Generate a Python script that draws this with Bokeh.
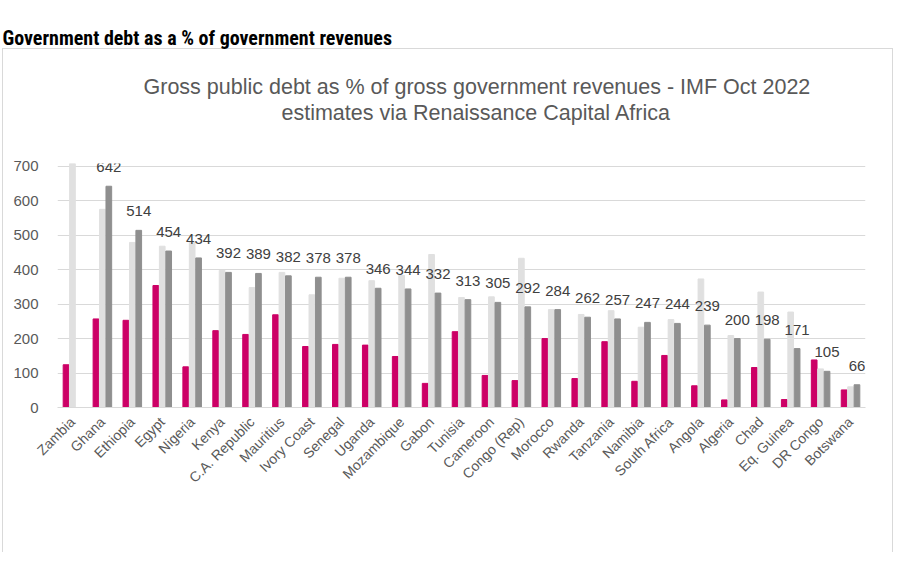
from math import pi

from bokeh.plotting import figure
from bokeh.models import ColumnDataSource, Legend, LegendItem, FixedTicker, Range1d, Title
from bokeh.transform import dodge
from bokeh.core.properties import value
from bokeh.embed import file_html
from bokeh.resources import INLINE

countries = ["Zambia", "Ghana", "Ethiopia", "Egypt", "Nigeria", "Kenya", "C.A. Republic",
             "Mauritius", "Ivory Coast", "Senegal", "Uganda", "Mozambique", "Gabon", "Tunisia",
             "Cameroon", "Congo (Rep)", "Morocco", "Rwanda", "Tanzania", "Namibia",
             "South Africa", "Angola", "Algeria", "Chad", "Eq. Guinea", "DR Congo", "Botswana"]
debt_2012 = [124, 257, 253, 354, 118, 223, 212, 269, 177, 183, 181, 148, 70, 220, 93, 78,
             200, 84, 191, 76, 151, 63, 22, 116, 23, 138, 51]
debt_2021 = [708, 575, 479, 468, 480, 398, 348, 392, 327, 375, 368, 383, 444, 319, 321, 433,
             284, 270, 281, 233, 255, 373, 209, 335, 277, 112, 60]
debt_2022 = [float("nan"), 642, 514, 454, 434, 392, 389, 382, 378, 378, 346, 344, 332, 313,
             305, 292, 284, 262, 257, 247, 244, 239, 200, 198, 171, 105, 66]
y_ticks = [0, 100, 200, 300, 400, 500, 600, 700]

header = "Government debt as a % of government revenues"
title_1 = "Gross public debt as % of gross government revenues - IMF Oct 2022"
title_2 = "estimates via Renaissance Capital Africa"

PINK = "#CC0066"
LIGHT = "#E0E0E0"
DARK = "#8F8F8F"
GRID = "#D9D9D9"
TXT = "#595959"
FONT = "Liberation Sans"

labels_2022 = ["" if v != v else str(v) for v in debt_2022]
source = ColumnDataSource(data={"country": countries, "y2012": debt_2012, "y2021": debt_2021,
                                "y2022": debt_2022, "lbl": labels_2022})

p = figure(x_range=countries, y_range=Range1d(0, 708), frame_width=808, frame_height=244,
           min_border_left=57, min_border_right=33, min_border_top=0, min_border_bottom=145,
           toolbar_location=None, output_backend="svg")

# light box round the chart (css background behind a transparent canvas)
p.border_fill_color = None
p.background_fill_color = None
line = "linear-gradient(%s, %s)" % (GRID, GRID)
p.styles = {
    "background-color": "white",
    "background-image": ", ".join([line] * 3),
    "background-position": "2px 48px, 2px 48px, 892px 48px",
    "background-size": "891px 1px, 1px 520px, 1px 520px",
    "background-repeat": "no-repeat",
}

r1 = p.vbar(x=dodge("country", -0.215, range=p.x_range), top="y2012", width=0.19,
            source=source, color=PINK)
r2 = p.vbar(x=dodge("country", 0.0, range=p.x_range), top="y2021", width=0.19,
            source=source, color=LIGHT)
r3 = p.vbar(x=dodge("country", 0.215, range=p.x_range), top="y2022", width=0.19,
            source=source, color=DARK)

p.text(x=dodge("country", 0.215, range=p.x_range), y="y2022", text="lbl", source=source,
       text_align="center", text_baseline="middle", y_offset=-19,
       text_font=value(FONT), text_font_size="15px", text_color="#404040")

# titles stack outward from the frame; each text sits in the middle of its slot
p.add_layout(Title(text=" ", standoff=36, text_font_size="1px"), "above")
p.add_layout(Title(text=title_2, align="left", offset=224, standoff=0, text_font=FONT,
                   text_font_size="21.5px", text_font_style="normal", text_color=TXT), "above")
p.add_layout(Title(text=title_1, align="left", offset=86, standoff=0, text_font=FONT,
                   text_font_size="21.5px", text_font_style="normal", text_color=TXT), "above")
p.add_layout(Title(text=header, align="left", offset=-55, standoff=46,
                   text_font="Liberation Sans Narrow, Roboto Condensed, Liberation Sans",
                   text_font_size="20px", text_font_style="bold", text_color="black"), "above")

p.outline_line_color = None
p.xgrid.grid_line_color = None
p.ygrid.grid_line_color = GRID
p.yaxis.ticker = FixedTicker(ticks=y_ticks)
p.yaxis.axis_line_color = None
p.yaxis.major_tick_line_color = None
p.yaxis.minor_tick_line_color = None
p.yaxis.major_label_standoff = 13
p.xaxis.axis_line_color = GRID
p.xaxis.major_tick_line_color = None
p.xaxis.major_label_orientation = pi / 4
p.xaxis.major_label_standoff = 6
p.axis.major_label_text_font = FONT
p.axis.major_label_text_color = TXT
p.yaxis.major_label_text_font_size = "15px"
p.xaxis.major_label_text_font_size = "14px"
p.x_range.range_padding = 0

# legend placed below the frame, position measured from the frame's bottom-left corner
legend = Legend(items=[LegendItem(label="2012", renderers=[r1]),
                       LegendItem(label="2021", renderers=[r2]),
                       LegendItem(label="2022", renderers=[r3])],
                orientation="horizontal", location=(300, -134), border_line_color=None,
                background_fill_alpha=0, glyph_width=8, glyph_height=8, label_standoff=6,
                spacing=20, label_text_font=FONT, label_text_font_size="17px",
                label_text_color=TXT, margin=0, padding=0)
p.add_layout(legend)

open("out.html", "w").write(file_html(p, INLINE))
